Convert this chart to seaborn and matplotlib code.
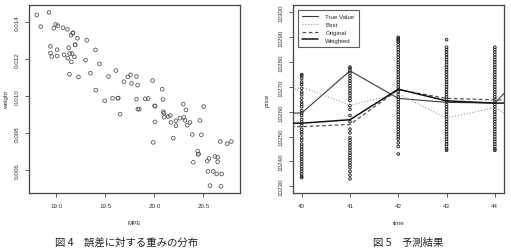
import numpy as np
import pandas as pd
import seaborn as sns
import matplotlib.pyplot as plt

# ---- 図4 データ
mpe = [18.799, 18.925, 18.840, 18.973, 18.993, 19.014, 19.068, 19.113, 19.167, 19.150,
       19.170, 19.215, 19.310, 18.939, 18.939, 18.952, 19.007, 19.007, 19.078, 19.126,
       19.116, 19.136, 19.160, 19.153, 19.184, 19.191, 19.191, 19.133, 19.225, 19.297,
       19.399, 19.440, 19.348, 19.402, 19.494, 19.532, 19.573, 19.607, 19.627, 19.632,
       19.651, 19.689, 19.730, 19.757, 19.767, 19.818, 19.829, 19.818, 19.832, 19.846,
       19.907, 19.938, 19.982, 20.002, 20.008, 20.006, 19.989, 20.081, 20.088, 20.091,
       20.098, 20.101, 20.142, 20.163, 20.169, 20.221, 20.193, 20.221, 20.262, 20.296,
       20.302, 20.313, 20.323, 20.337, 20.364, 20.388, 20.466, 20.480, 20.504, 20.398,
       20.442, 20.452, 20.448, 20.541, 20.558, 20.619, 20.647, 20.647, 20.548, 20.602,
       20.637, 20.688, 20.568, 20.681, 20.674, 20.746, 20.787]
weight = [0.01438, 0.01452, 0.01375, 0.01366, 0.01387, 0.01380, 0.01369, 0.01360, 0.01339, 0.01328,
          0.01342, 0.01312, 0.01301, 0.01268, 0.01232, 0.01213, 0.01250, 0.01216, 0.01223, 0.01261,
          0.01204, 0.01229, 0.01229, 0.01184, 0.01211, 0.01277, 0.01276, 0.01117, 0.01103, 0.01193,
          0.01249, 0.01173, 0.01123, 0.01031, 0.00973, 0.01105, 0.00987, 0.01137, 0.00987, 0.00988,
          0.00901, 0.01077, 0.01103, 0.01114, 0.01067, 0.01105, 0.01058, 0.00982, 0.00928, 0.00928,
          0.00984, 0.00986, 0.01083, 0.00946, 0.00944, 0.00859, 0.00748, 0.01036, 0.00980, 0.00914,
          0.00906, 0.00885, 0.00888, 0.00894, 0.00856, 0.00838, 0.00771, 0.00865, 0.00879, 0.00955,
          0.00883, 0.00868, 0.00924, 0.00841, 0.00856, 0.00791, 0.00867, 0.00789, 0.00942, 0.00640,
          0.00701, 0.00685, 0.00684, 0.00647, 0.00661, 0.00672, 0.00667, 0.00643, 0.00591, 0.00591,
          0.00577, 0.00577, 0.00514, 0.00510, 0.00753, 0.00741, 0.00753]

# ---- 図5 データ
line_time = [39, 40, 41, 42, 43, 44, 45]
true_value = [10259.5, 10259.5, 10276.5, 10265.4, 10263.8, 10263.5, 10284.0]
best = [10263.0, 10270.0, 10262.7, 10267.1, 10257.5, 10261.7, 10250.0]
original = [10254.0, 10254.0, 10254.9, 10268.9, 10265.4, 10264.8, 10264.8]
weighted = [10255.4, 10255.4, 10256.8, 10269.1, 10264.4, 10263.5, 10263.5]

pred40 = [10275, 10274.5, 10273.5, 10272, 10271, 10269.5, 10268, 10267, 10265.5, 10264,
          10263, 10262, 10260.5, 10259.5, 10258.5, 10257, 10256, 10254.5, 10253, 10252,
          10251, 10249.5, 10248.5, 10247, 10246, 10245, 10244, 10243, 10242, 10241,
          10240, 10239, 10238, 10237, 10236, 10235, 10234, 10233.5]
pred41 = [10278, 10277.5, 10276.5, 10275.5, 10274.5, 10273.5, 10272.5, 10271.5, 10270.5, 10269.5,
          10268.5, 10267.5, 10266.5, 10265.5, 10264.5, 10262.5, 10261, 10258.5, 10256, 10253,
          10251.5, 10249.5, 10248.5, 10247.5, 10246.5, 10245.5, 10244.5, 10243.5, 10242.5, 10241.5,
          10240.5, 10239.5, 10238.5, 10237.5, 10236, 10234.5, 10233]
pred42 = [10290, 10289.5, 10289, 10288.5, 10288, 10287, 10286, 10285, 10284, 10283,
          10282, 10281, 10280, 10279, 10278, 10277, 10276, 10275, 10274, 10273,
          10272, 10271, 10270, 10269, 10268, 10267, 10266, 10265, 10264, 10263,
          10262, 10261, 10260, 10259, 10258, 10257, 10256, 10255, 10254, 10253,
          10252, 10251, 10250, 10249, 10247.5, 10246, 10243]
pred43 = [10289, 10286, 10285, 10284, 10283, 10282, 10281, 10280, 10279, 10278,
          10277, 10276, 10275, 10274, 10273, 10272, 10271, 10270, 10269, 10268,
          10267, 10266, 10265, 10264, 10263, 10262, 10261, 10260, 10259, 10258,
          10257, 10256, 10255, 10254, 10253, 10252, 10251, 10250, 10249, 10248,
          10247, 10246, 10245, 10244.5]
pred44 = [10286, 10285, 10284, 10283, 10282, 10281, 10280, 10279, 10278, 10277,
          10276, 10275, 10274, 10273, 10272, 10271, 10270, 10269, 10268, 10267,
          10266, 10265, 10264, 10263, 10262, 10261, 10260, 10259, 10258, 10257,
          10256, 10255, 10254, 10253, 10252, 10251, 10250, 10249, 10248, 10247,
          10246, 10245, 10244.5]

sns.set_style("white")
plt.rcParams["font.family"] = ["Liberation Sans", "Noto Sans CJK JP", "DejaVu Sans"]

fig = plt.figure(figsize=(5.11, 2.53), dpi=100)
ax1 = fig.add_axes([29/511, 1 - 194/253, 211/511, 188/253])
ax2 = fig.add_axes([293/511, 1 - 194/253, 211/511, 188/253])

# 図4
sns.scatterplot(x=mpe, y=weight, ax=ax1, marker="o", s=7,
                facecolors="none", edgecolor="#5a5a5a", linewidth=0.6)
ax1.set_xlim(18.72, 20.875)
ax1.set_ylim(0.00474, 0.01492)
ax1.set_xticks([19.0, 19.5, 20.0, 20.5])
ax1.set_xticklabels(["19.0", "19.5", "20.0", "20.5"])
ax1.set_yticks([0.006, 0.008, 0.010, 0.012, 0.014])
ax1.set_yticklabels(["0.006", "0.008", "0.010", "0.012", "0.014"])
ax1.set_xlabel("MPE", fontsize=4.5, color="#333333", labelpad=9)
ax1.set_ylabel("weight", fontsize=4.5, color="#333333", labelpad=4)

# 図5
pred_df = pd.DataFrame({
    "time": [40]*len(pred40) + [41]*len(pred41) + [42]*len(pred42) + [43]*len(pred43) + [44]*len(pred44),
    "price": pred40 + pred41 + pred42 + pred43 + pred44,
})
sns.scatterplot(data=pred_df, x="time", y="price", ax=ax2, marker="o", s=3.5,
                facecolors="none", edgecolor="#2a2a2a", linewidth=0.7, zorder=2)

sns.lineplot(x=line_time, y=true_value, ax=ax2, color="#3a3a3a", lw=0.8, label="True Value", zorder=3)
sns.lineplot(x=line_time, y=best, ax=ax2, color="#9a9a9a", lw=0.8, ls=":", label="Best", zorder=3)
sns.lineplot(x=line_time, y=original, ax=ax2, color="#555555", lw=0.9, ls=(0, (3, 2)), label="Original", zorder=3)
sns.lineplot(x=line_time, y=weighted, ax=ax2, color="#111111", lw=1.1, label="Weighted", zorder=3)

ax2.set_xlim(39.82, 44.19)
ax2.set_ylim(10227.3, 10303)
ax2.set_xticks([40, 41, 42, 43, 44])
ax2.set_yticks(list(range(10230, 10301, 10)))
ax2.set_xlabel("time", fontsize=4.5, color="#333333", labelpad=9)
ax2.set_ylabel("price", fontsize=4.5, color="#333333", labelpad=6)
leg = ax2.legend(loc="upper left", fontsize=4.4, frameon=True, fancybox=False,
                 edgecolor="#333333", handlelength=2.6, borderpad=0.7,
                 labelspacing=0.4, borderaxespad=0.8, handletextpad=1.2)
leg.get_frame().set_linewidth(0.8)

for ax in (ax1, ax2):
    for s in ax.spines.values():
        s.set_color("#444444")
        s.set_linewidth(0.9)
    ax.tick_params(axis="both", direction="out", length=3, width=0.6,
                   color="#444444", labelsize=4.5, labelcolor="#333333",
                   bottom=True, left=True, pad=4)
    for lab in ax.get_yticklabels():
        lab.set_rotation(90)
        lab.set_va("center")

fig.text(127/511, 1 - 243/253, "図 4　誤差に対する重みの分布", ha="center", va="center",
         fontsize=7.5, family=["Noto Sans CJK JP"], color="#222222")
fig.text(408/511, 1 - 243/253, "図 5　予測結果", ha="center", va="center",
         fontsize=7.5, family=["Noto Sans CJK JP"], color="#222222")

fig.savefig("out.png", dpi=100)
